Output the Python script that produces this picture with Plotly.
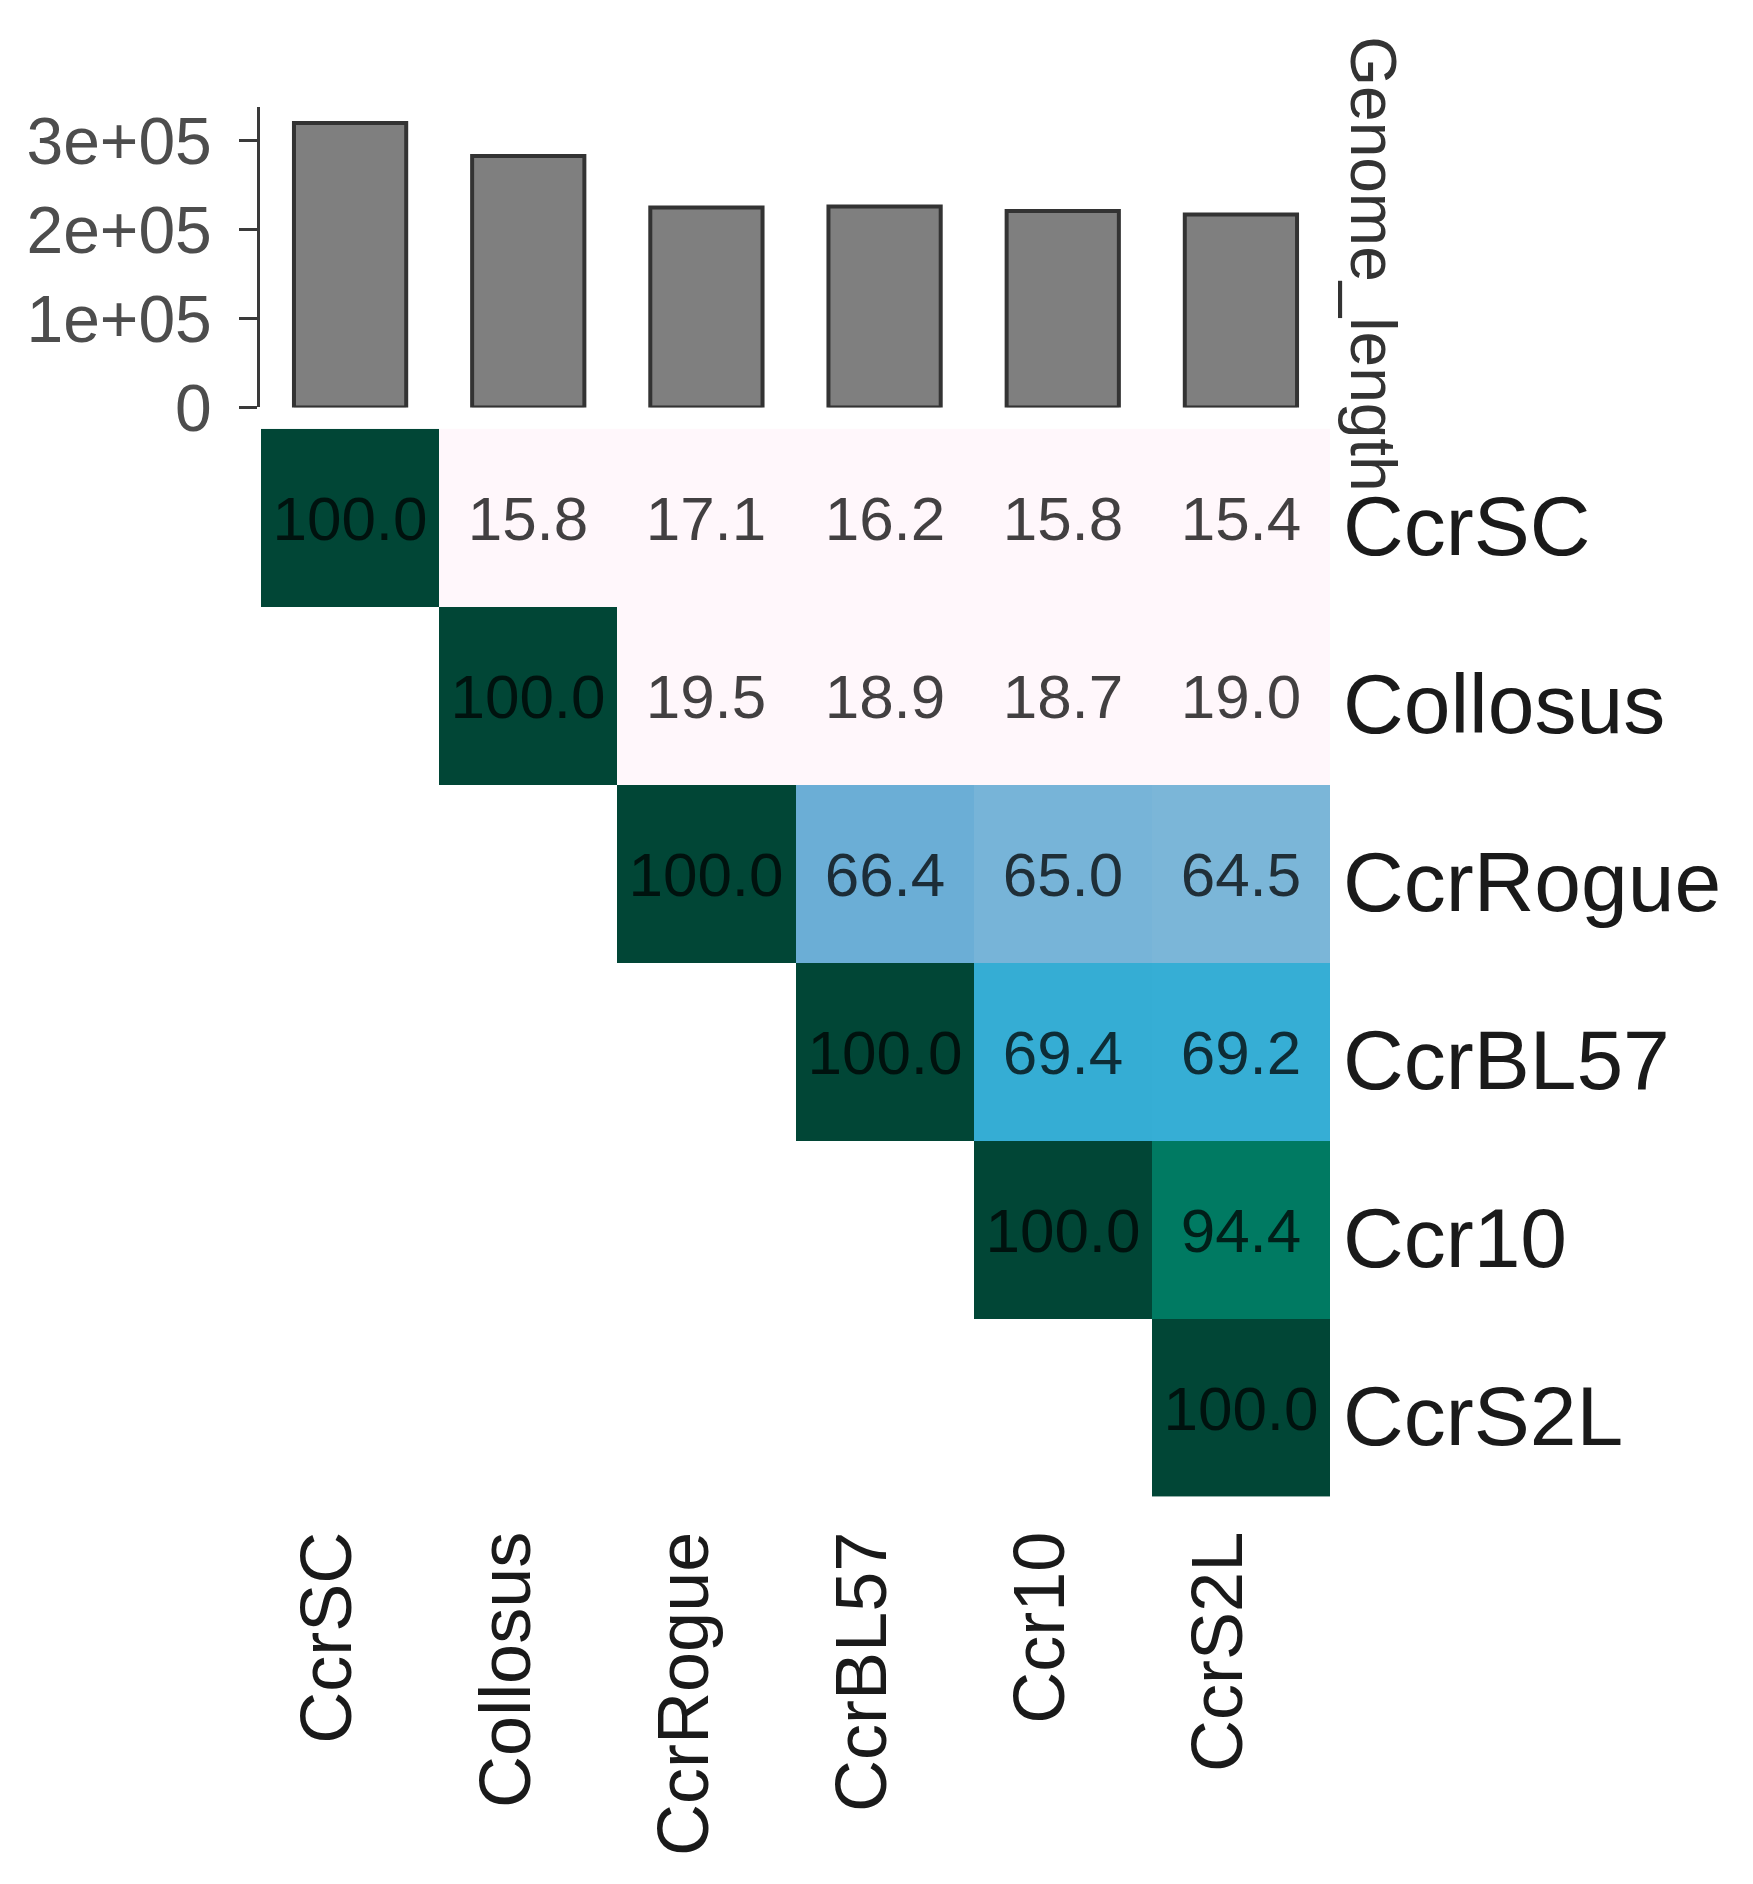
import plotly.graph_objects as go

# phages, in the order used on both heatmap axes
phages = ["CcrSC", "Collosus", "CcrRogue", "CcrBL57", "Ccr10", "CcrS2L"]

# genome length (bp) shown in the top bar panel
genome_length = [320000, 283000, 225000, 226000, 221000, 217000]

# pairwise identity (%), upper triangle only
identity = [
    [100.0, 15.8, 17.1, 16.2, 15.8, 15.4],
    [None, 100.0, 19.5, 18.9, 18.7, 19.0],
    [None, None, 100.0, 66.4, 65.0, 64.5],
    [None, None, None, 100.0, 69.4, 69.2],
    [None, None, None, None, 100.0, 94.4],
    [None, None, None, None, None, 100.0],
]

bar_tickvals = [0, 100000, 200000, 300000]
bar_ticktext = ["0", "1e+05", "2e+05", "3e+05"]

# figure is a bit smaller than the window so the page (with body margin) fits
W, H = 1737, 1848
OFF = 8  # default body margin of the html page
FONT = "Liberation Sans, Arial, Helvetica, sans-serif"


def fx(p):
    # page pixel -> paper x
    return (p - OFF) / W


def fy(p):
    # page pixel -> paper y
    return 1 - (p - OFF) / H


cell_text = [["" if v is None else f"{v:.1f}" for v in row] for row in identity]

colorscale = [
    [0.0, "#FFF7FB"],
    [0.2, "#FFF7FB"],
    [0.645, "#7BB6D8"],
    [0.665, "#6AAED6"],
    [0.69, "#36AED6"],
    [0.944, "#007A62"],
    [1.0, "#014636"],
]

fig = go.Figure()

fig.add_trace(go.Heatmap(
    x=phages,
    y=phages,
    z=identity,
    text=cell_text,
    texttemplate="%{text}",
    textfont=dict(family=FONT, size=62, color="rgba(0,0,0,0.74)"),
    colorscale=colorscale,
    zmin=0,
    zmax=100,
    showscale=False,
    hoverongaps=False,
    xaxis="x",
    yaxis="y",
))

fig.add_trace(go.Bar(
    x=phages,
    y=genome_length,
    width=0.63,
    marker=dict(color="#7F7F7F", line=dict(color="#333333", width=4)),
    xaxis="x2",
    yaxis="y2",
    showlegend=False,
))

fig.update_layout(
    width=W,
    height=H,
    margin=dict(l=0, r=0, t=0, b=0),
    paper_bgcolor="white",
    plot_bgcolor="white",
    showlegend=False,
    font=dict(family=FONT, color="#1A1A1A"),
    xaxis=dict(
        domain=[fx(261), fx(1330)],
        anchor="y",
        type="category",
        categoryorder="array",
        categoryarray=phages,
        range=[-0.5, 5.5],
        tickangle=-90,
        tickfont=dict(size=72, color="#1A1A1A"),
        ticklabelshift=-22,
        ticklabelstandoff=20,
        showline=False,
        showgrid=False,
        zeroline=False,
        ticks="",
    ),
    yaxis=dict(
        domain=[fy(1533), fy(437)],
        anchor="x",
        side="right",
        type="category",
        categoryorder="array",
        categoryarray=phages,
        range=[5.5, -0.5],
        tickfont=dict(size=84, color="#1A1A1A"),
        ticklabelstandoff=12,
        ticklabelshift=-8,
        showline=False,
        showgrid=False,
        zeroline=False,
        ticks="",
    ),
    xaxis2=dict(
        domain=[fx(261), fx(1330)],
        anchor="y2",
        type="category",
        categoryorder="array",
        categoryarray=phages,
        range=[-0.5, 5.5],
        showticklabels=False,
        showline=False,
        showgrid=False,
        zeroline=False,
        ticks="",
    ),
    yaxis2=dict(
        domain=[fy(415), fy(107)],
        anchor="free",
        position=fx(258),
        range=[0, 337600],
        tickvals=bar_tickvals,
        ticktext=bar_ticktext,
        tickfont=dict(size=66, color="#4D4D4D"),
        ticks="outside",
        ticklen=18,
        tickwidth=3,
        tickcolor="#3A3A3A",
        ticklabelstandoff=14,
        showline=True,
        linecolor="#3A3A3A",
        linewidth=3,
        showgrid=False,
        zeroline=False,
    ),
    annotations=[
        dict(
            text="Genome_length",
            textangle=90,
            xref="paper",
            yref="paper",
            x=fx(1373),
            y=fy(267),
            xanchor="center",
            yanchor="middle",
            showarrow=False,
            font=dict(family=FONT, size=64, color="#333333"),
        )
    ],
)

fig.write_html("out.html")
